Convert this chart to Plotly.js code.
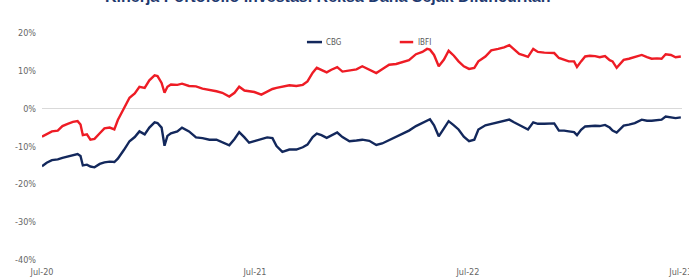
<!DOCTYPE html>
<html>
<head>
<meta charset="utf-8">
<script src="https://cdn.plot.ly/plotly-3.0.1.min.js"></script>
<style>html,body{margin:0;padding:0;background:#fff;}#chart{width:689px;height:278px;}</style>
</head>
<body>
<div id="chart"></div>
<script>
const titleText = "Kinerja Portofolio Investasi Reksa Dana Sejak Diluncurkan";
const seriesNames = ["CBG", "IBFI"];
const dates = ["2020-07-01","2020-07-09","2020-07-18","2020-07-28","2020-08-05","2020-08-14","2020-08-23","2020-08-31","2020-09-05","2020-09-09","2020-09-16","2020-09-22","2020-09-29","2020-10-08","2020-10-16","2020-10-25","2020-11-02","2020-11-08","2020-11-18","2020-11-28","2020-12-07","2020-12-15","2020-12-24","2021-01-01","2021-01-10","2021-01-15","2021-01-22","2021-01-27","2021-02-01","2021-02-07","2021-02-18","2021-02-26","2021-03-10","2021-03-22","2021-04-02","2021-04-14","2021-04-26","2021-05-06","2021-05-18","2021-05-27","2021-06-04","2021-06-13","2021-06-21","2021-06-30","2021-07-12","2021-07-22","2021-07-31","2021-08-07","2021-08-17","2021-08-29","2021-09-10","2021-09-21","2021-09-29","2021-10-08","2021-10-15","2021-10-23","2021-11-01","2021-11-09","2021-11-19","2021-11-28","2021-12-10","2021-12-22","2022-01-01","2022-01-13","2022-01-25","2022-02-04","2022-02-16","2022-02-28","2022-03-10","2022-03-22","2022-04-03","2022-04-14","2022-04-22","2022-04-27","2022-05-04","2022-05-12","2022-05-21","2022-05-29","2022-06-07","2022-06-15","2022-06-24","2022-07-03","2022-07-12","2022-07-19","2022-07-31","2022-08-10","2022-08-22","2022-09-01","2022-09-10","2022-09-18","2022-09-27","2022-10-05","2022-10-12","2022-10-21","2022-10-29","2022-11-09","2022-11-17","2022-11-26","2022-12-04","2022-12-13","2022-12-21","2022-12-30","2023-01-04","2023-01-11","2023-01-18","2023-01-26","2023-02-04","2023-02-12","2023-02-21","2023-03-01","2023-03-06","2023-03-13","2023-03-20","2023-03-25","2023-04-03","2023-04-13","2023-04-25","2023-05-04","2023-05-12","2023-05-21","2023-05-29","2023-06-05","2023-06-14","2023-06-22","2023-07-01"];
const ibfi = [-7.4,-6.8,-6.0,-5.8,-4.6,-4.0,-3.5,-3.3,-4.2,-7.0,-6.8,-8.2,-8.0,-6.5,-5.2,-5.0,-5.5,-3.0,0.0,2.9,4.0,5.8,5.5,7.5,8.8,8.6,6.8,4.2,5.8,6.4,6.3,6.6,6.0,5.9,5.3,5.0,4.6,4.2,3.2,4.2,5.8,4.8,4.6,4.4,3.7,4.6,5.2,5.5,5.8,6.2,6.0,6.3,7.2,9.5,10.8,10.2,9.6,10.3,11.0,9.8,10.2,10.4,11.2,10.4,9.4,10.4,11.6,11.8,12.2,12.8,14.4,15.0,15.8,15.6,14.2,11.2,13.0,15.3,14.0,12.5,11.2,10.5,10.8,12.5,13.8,15.4,15.8,16.2,16.8,15.6,14.5,14.1,13.7,15.8,15.0,14.8,14.7,14.7,13.4,13.0,12.5,12.5,11.0,12.5,13.8,14.0,13.9,13.6,13.9,12.8,12.5,10.8,12.0,12.9,13.2,13.6,14.2,13.6,13.2,13.3,13.2,14.4,14.2,13.6,13.8];
const cbg = [-15.2,-14.3,-13.6,-13.4,-13.0,-12.6,-12.2,-12.0,-12.5,-15.0,-14.8,-15.3,-15.5,-14.6,-14.2,-14.0,-14.1,-13.2,-11.0,-8.6,-7.5,-6.0,-6.8,-5.0,-3.6,-3.8,-5.0,-9.8,-7.2,-6.5,-6.0,-5.0,-6.0,-7.6,-7.8,-8.2,-8.2,-8.8,-9.7,-8.0,-6.2,-7.6,-9.0,-8.6,-8.0,-7.6,-7.8,-9.9,-11.4,-10.8,-10.8,-10.2,-9.5,-7.5,-6.6,-7.0,-7.7,-7.0,-6.3,-7.5,-8.6,-8.4,-8.2,-8.5,-9.6,-9.2,-8.3,-7.4,-6.8,-5.8,-4.6,-3.8,-3.0,-2.8,-4.4,-7.3,-5.2,-3.3,-4.4,-5.5,-7.4,-8.6,-8.2,-5.5,-4.4,-4.0,-3.6,-3.1,-2.9,-3.6,-4.4,-5.0,-5.5,-3.6,-4.0,-4.0,-3.9,-3.9,-5.8,-5.8,-6.0,-6.2,-7.0,-5.6,-4.7,-4.6,-4.5,-4.6,-4.3,-5.0,-5.8,-6.3,-5.2,-4.5,-4.2,-3.8,-2.9,-3.2,-3.2,-3.0,-2.9,-2.1,-2.3,-2.5,-2.3];
const xTickVals = ["2020-07-01","2021-07-01","2022-07-01","2023-07-01"];
const xTickText = ["Jul-20","Jul-21","Jul-22","Jul-23"];
const yTickVals = [-40,-30,-20,-10,0,10,20];
const yTickText = ["-40%","-30%","-20%","-10%","0%","10%","20%"];

const navy = "#13285C";
const red = "#EE1C25";
const narrow = "'Liberation Sans Narrow', 'Arial Narrow', 'DejaVu Sans Condensed', sans-serif";

const traces = [
  {x: dates, y: cbg, name: seriesNames[0], type: "scatter", mode: "lines", line: {color: navy, width: 2.4}, showlegend: false},
  {x: dates, y: ibfi, name: seriesNames[1], type: "scatter", mode: "lines", line: {color: red, width: 2.4}, showlegend: false}
];

const layout = {
  width: 689, height: 278,
  margin: {l: 42, r: 7, t: 33, b: 18},
  paper_bgcolor: "#fff", plot_bgcolor: "#fff",
  xaxis: {type: "date", range: ["2020-07-01","2023-07-03"], tickmode: "array", tickvals: xTickVals, ticktext: xTickText, showgrid: false, zeroline: false, showline: false, ticks: "", tickfont: {family: narrow, size: 9, color: "#666"}, ticklabelstandoff: 5, ticklabeloverflow: "allow"},
  yaxis: {range: [-40, 20], tickmode: "array", tickvals: yTickVals, ticktext: yTickText, showgrid: false, zeroline: true, zerolinecolor: "#D9D9D9", zerolinewidth: 1.5, showline: false, ticks: "", tickfont: {family: narrow, size: 9, color: "#666"}, ticklabelstandoff: 5},
  shapes: [
    {type: "line", xref: "paper", yref: "paper", x0: 0.414, x1: 0.4375, y0: 0.960, y1: 0.960, line: {color: navy, width: 2.5}},
    {type: "line", xref: "paper", yref: "paper", x0: 0.559, x1: 0.58, y0: 0.960, y1: 0.960, line: {color: red, width: 2.5}}
  ],
  annotations: [
    {text: "<b>" + titleText + "</b>", xref: "paper", yref: "paper", x: 0.446, y: 1.1145, xanchor: "center", yanchor: "bottom", showarrow: false, font: {family: "'Liberation Sans', Arial, sans-serif", size: 16, color: "#1F3A70"}},
    {text: seriesNames[0], xref: "paper", yref: "paper", x: 0.441, y: 0.960, xanchor: "left", yanchor: "middle", showarrow: false, font: {family: narrow, size: 8, color: "#595959"}},
    {text: seriesNames[1], xref: "paper", yref: "paper", x: 0.584, y: 0.960, xanchor: "left", yanchor: "middle", showarrow: false, font: {family: narrow, size: 8, color: "#595959"}}
  ],
  showlegend: false
};

Plotly.newPlot("chart", traces, layout, {displayModeBar: false, staticPlot: true});
</script>
</body>
</html>
